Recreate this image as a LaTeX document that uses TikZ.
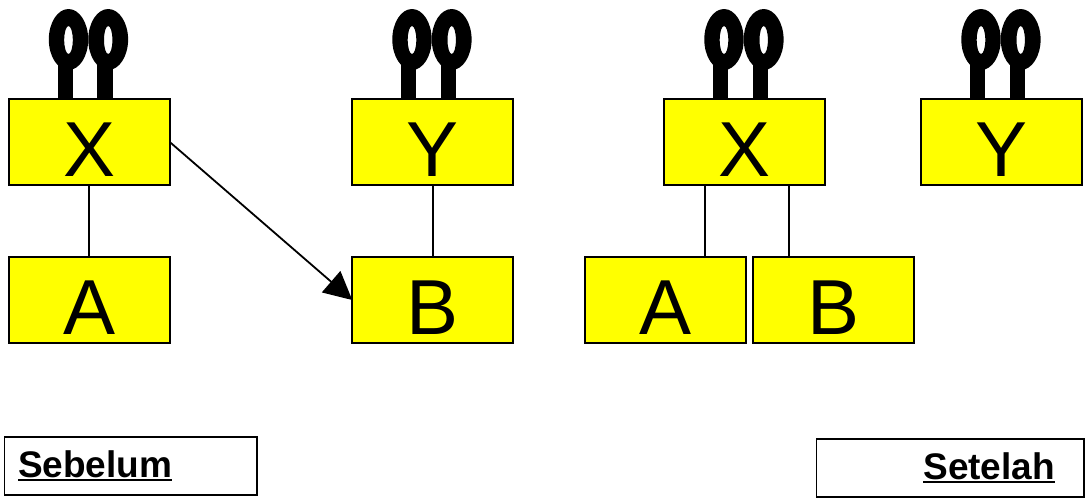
\documentclass[tikz,border=0pt]{standalone}
\usepackage{fontspec}
\setmainfont{Liberation Sans}
\usetikzlibrary{arrows.meta}
\definecolor{boxyellow}{RGB}{255,255,0}
\newcommand{\myul}[1]{\setbox0\hbox{#1}\raisebox{-1.5pt}{\rlap{\rule[-4pt]{\wd0}{2.6pt}}\box0}}
% plug: #1 = x of the box's left edge, #2 = y of the box's top edge
\newcommand{\plugpair}[2]{%
  \fill[black] (#1+49,#2) rectangle (#1+64.2,#2-39);
  \fill[black] (#1+88.5,#2) rectangle (#1+104,#2-39);
  \fill[black,even odd rule] (#1+60,#2-59.5) ellipse [x radius=19.7, y radius=30.5]
    (#1+60,#2-59) ellipse [x radius=4.3, y radius=14];
  \fill[black,even odd rule] (#1+99.7,#2-59.5) ellipse [x radius=19.9, y radius=30.5]
    (#1+99.7,#2-59) ellipse [x radius=4.2, y radius=14];
}
\tikzset{
  block/.style={draw=black, line width=1.8pt, fill=boxyellow, minimum width=161pt, minimum height=86pt,
    inner sep=0pt, outer sep=0pt, text height=76pt, text depth=8pt,
    font=\fontsize{78}{82}\selectfont},
  link/.style={draw=black, line width=1.8pt},
  captionbox/.style={draw=black, line width=1.8pt, fill=white, inner sep=0pt, outer sep=0pt,
    font=\fontsize{37}{40}\selectfont\bfseries},
  arrowlink/.style={link, -{Triangle[length=28pt,width=28pt]}}
}
\begin{document}
\begin{tikzpicture}[x=1pt,y=-1pt]
\useasboundingbox (0,0) rectangle (1086,498);
\fill[white] (0,0) rectangle (1086,498);
\plugpair{8.5}{99}
\plugpair{352}{99}
\plugpair{664}{99}
\plugpair{921}{99}
\node[block] (X1) at (89.25,142) {X};
\node[block] (Y1) at (432.75,142) {Y};
\node[block] (A1) at (89.25,300) {A};
\node[block] (B1) at (432.75,300) {B};
\node[block] (X2) at (744.75,142) {X};
\node[block] (Y2) at (1001.75,142) {Y};
\node[block] (A2) at (665.75,300) {A};
\node[block] (B2) at (833.75,300) {B};
\coordinate (ca) at (705,220);
\coordinate (cb) at (789,220);
\draw[link] (X1.south) -- (A1.north);
\draw[link] (Y1.south) -- (B1.north);
\draw[arrowlink] (X1.east) -- (B1.west);
\draw[link] (ca |- X2.south) -- (ca |- A2.north);
\draw[link] (cb |- X2.south) -- (cb |- B2.north);
\node[captionbox, minimum width=252.5pt, minimum height=58pt, text width=225.5pt, align=left] (before) at (130.75,466) {\myul{Sebelum}};
\node[captionbox, minimum width=267.5pt, minimum height=58pt, text width=209.5pt, align=right] (after) at (950.25,468) {\myul{Setelah}};
\end{tikzpicture}
\end{document}
